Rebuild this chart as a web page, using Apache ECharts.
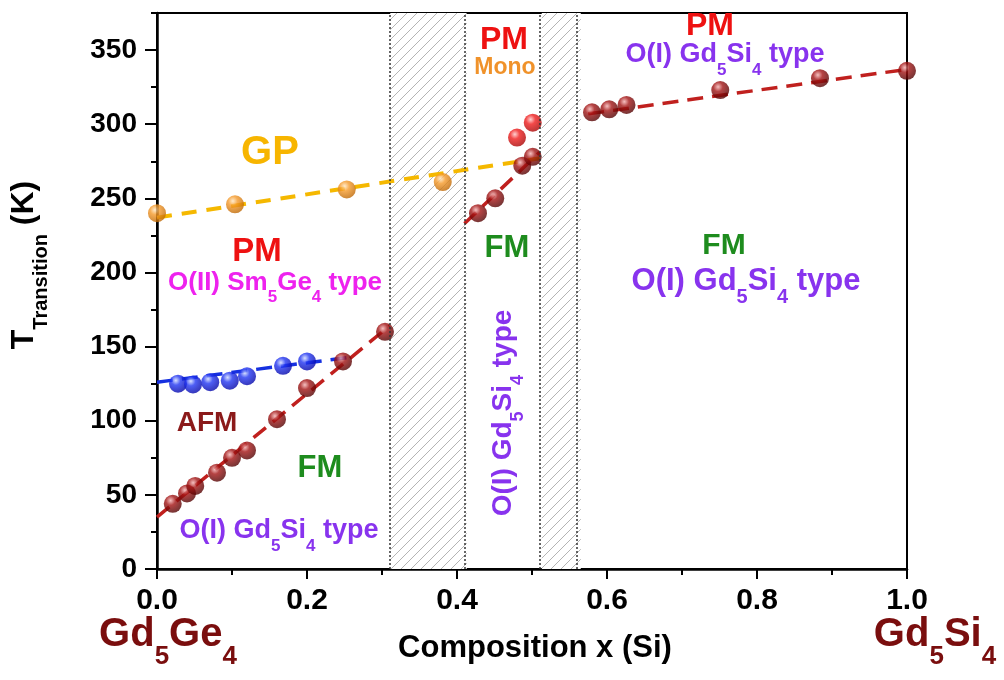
<!DOCTYPE html>
<html>
<head>
<meta charset="utf-8">
<script src="https://cdn.jsdelivr.net/npm/echarts@6/dist/echarts.min.js"></script>
<style>
  html, body { margin: 0; padding: 0; background: #fff; }
  #main { width: 1004px; height: 680px; }
</style>
</head>
<body>
<div id="main"></div>
<script>
// data: [x (Si), T (K)]
const gpLine = [[0, 237], [0.51, 277]];
const gpPts = [[0, 240], [0.104, 246], [0.253, 256], [0.381, 261]];
const afmLine = [[0, 126], [0.26, 143]];
const afmPts = [[0.028, 125], [0.048, 124.5], [0.071, 126], [0.097, 127], [0.12, 130], [0.168, 137], [0.2, 140]];
const fmLowLine = [[0, 35], [0.31, 164]];
const fmLowPts = [[0.021, 44], [0.04, 51], [0.051, 56], [0.08, 65], [0.1, 75], [0.12, 80], [0.16, 101], [0.2, 122], [0.248, 140], [0.304, 160]];
const fmMidLine = [[0.41, 233], [0.51, 281]];
const fmMidPts = [[0.428, 240], [0.451, 250], [0.487, 272], [0.501, 278]];
const pmMonoPts = [[0.48, 291], [0.501, 301]];
const fmHighLine = [[0.575, 307], [1.0, 337]];
const fmHighPts = [[0.58, 308], [0.603, 310], [0.626, 313], [0.751, 323], [0.884, 331], [1.0, 336]];
// two-phase (hatched) regions and their boundaries
const hatchRanges = [[0.311, 0.413], [0.513, 0.565]];
const boundaries = [0.311, 0.413, 0.513, 0.565];
// tick values
const yMajor = [0, 50, 100, 150, 200, 250, 300, 350];
const yMinor = [25, 75, 125, 175, 225, 275, 325, 375];

const FONT = '"Liberation Sans", Arial, sans-serif';

// hatch tile
const tile = document.createElement('canvas');
tile.width = 10; tile.height = 10;
(function () {
  const c = tile.getContext('2d');
  c.fillStyle = '#fff';
  c.fillRect(0, 0, 10, 10);
  c.strokeStyle = '#b4b4b4';
  c.lineWidth = 1;
  c.beginPath();
  c.moveTo(0, 10); c.lineTo(10, 0);
  c.stroke();
})();

function ball(light, mid, dark) {
  return {
    type: 'radial', x: 0.38, y: 0.32, r: 0.75,
    colorStops: [
      { offset: 0, color: light },
      { offset: 0.35, color: mid },
      { offset: 1, color: dark }
    ]
  };
}
const darkRed = ball('#f3b0b0', '#a31414', '#4a0000');
const brightRed = ball('#ffc4c4', '#f01c1c', '#a00000');
const orange = ball('#ffe6c0', '#f59a2a', '#b86200');
const blue = ball('#cdd8ff', '#2236f2', '#0000a0');

function lineSeries(data, color, width, dash) {
  return {
    type: 'line', data: data, symbol: 'none', z: 2, silent: true,
    lineStyle: { color: color, width: width, type: dash }
  };
}
function ptSeries(data, color) {
  return {
    type: 'scatter', data: data, symbolSize: 18, z: 3, clip: false,
    itemStyle: { color: color }
  };
}

// rich text with subscripts: main centred at lineTop + F/2, sub pushed to the line bottom
function rich(F, color) {
  const S = Math.round(F * 0.64);
  return {
    m: { fontSize: F, fontWeight: 'bold', fontFamily: FONT, fill: color, color: color, lineHeight: F, verticalAlign: 'top' },
    s: { fontSize: S, fontWeight: 'bold', fontFamily: FONT, fill: color, color: color, lineHeight: Math.round(0.85 * F + 0.8 * S), verticalAlign: 'bottom' }
  };
}
function sub(str) {
  // "Gd_5Si_4" -> rich string
  return str.split(/(_\d)/).filter(Boolean).map(function (p) {
    return p[0] === '_' ? '{s|' + p.slice(1) + '}' : '{m|' + p + '}';
  }).join('');
}
function label(text, cx, cy, F, color, rot) {
  return {
    type: 'text', x: cx, y: cy - F / 2, rotation: rot || 0, z: 10, silent: true,
    style: {
      text: sub(text), rich: rich(F, color),
      textAlign: 'center', align: 'center', textVerticalAlign: 'top', verticalAlign: 'top'
    }
  };
}

const chart = echarts.init(document.getElementById('main'));

chart.setOption({
  animation: false,
  backgroundColor: '#fff',
  grid: { left: 157, right: 97, top: 13, bottom: 111, show: true, borderColor: '#000', borderWidth: 2, backgroundColor: 'transparent' },
  xAxis: {
    type: 'value', min: 0, max: 1, interval: 0.2,
    splitLine: { show: false },
    axisLine: { lineStyle: { color: '#000', width: 2.5 } },
    axisTick: { length: 10, lineStyle: { color: '#000', width: 2 } },
    minorTick: { show: true, splitNumber: 2, length: 6, lineStyle: { color: '#000', width: 2 } },
    axisLabel: {
      margin: 17, color: '#000', fontSize: 30, fontWeight: 'bold', fontFamily: FONT,
      formatter: function (v) { return v.toFixed(1); }
    }
  },
  yAxis: [{
    type: 'value', min: 0, max: 375,
    splitLine: { show: false },
    axisLine: { show: true, lineStyle: { color: '#000', width: 2.5 } },
    axisTick: { show: true, length: 12, customValues: yMajor, lineStyle: { color: '#000', width: 2 } },
    axisLabel: { margin: 20, customValues: yMajor, color: '#000', fontSize: 28, fontWeight: 'bold', fontFamily: FONT }
  }, {
    type: 'value', min: 0, max: 375, position: 'left',
    splitLine: { show: false },
    axisLine: { show: false },
    axisTick: { show: true, length: 6, customValues: yMinor, lineStyle: { color: '#000', width: 2 } },
    axisLabel: { show: false }
  }],
  series: [
    {
      type: 'line', data: [], silent: true, z: 1,
      markArea: {
        silent: true,
        itemStyle: { color: { image: tile, repeat: 'repeat' }, opacity: 1 },
        data: hatchRanges.map(function (r) { return [{ xAxis: r[0] }, { xAxis: r[1] }]; })
      },
      markLine: {
        silent: true, symbol: 'none', label: { show: false },
        lineStyle: { color: '#333', width: 1.5, type: [2, 2] },
        data: boundaries.map(function (b) { return { xAxis: b }; })
      }
    },
    lineSeries(gpLine, '#f5b800', 4, [15, 10]),
    lineSeries(afmLine, '#1530e0', 3.5, [16, 9]),
    lineSeries(fmLowLine, '#c0201e', 3.5, [16, 9]),
    lineSeries(fmMidLine, '#c0201e', 3.5, [16, 9]),
    lineSeries(fmHighLine, '#c0201e', 3.5, [16, 9]),
    ptSeries(gpPts, orange),
    ptSeries(afmPts, blue),
    ptSeries(fmLowPts, darkRed),
    ptSeries(fmMidPts, darkRed),
    ptSeries(pmMonoPts, brightRed),
    ptSeries(fmHighPts, darkRed)
  ],
  graphic: [
    label('GP', 270, 153, 40, '#f7b500'),
    label('PM', 257, 252, 33, '#ee1111'),
    label('O(II) Sm_5Ge_4 type', 275, 283, 26, '#ee22ee'),
    label('AFM', 207, 423, 28, '#8b1a1a'),
    label('FM', 320, 468, 31, '#1e8c1e'),
    label('O(I) Gd_5Si_4 type', 279, 531, 27, '#8833ee'),
    label('PM', 504, 40, 32, '#ee1111'),
    label('Mono', 505, 68, 23, '#f0922a'),
    label('FM', 507, 248, 31, '#1e8c1e'),
    {
      type: 'text', x: 489, y: 413, rotation: Math.PI / 2, z: 10, silent: true,
      style: { text: sub('O(I) Gd_5Si_4 type'), rich: rich(28, '#8833ee'), textAlign: 'center', align: 'center', textVerticalAlign: 'top', verticalAlign: 'top' }
    },
    label('PM', 710, 26, 32, '#ee1111'),
    label('O(I) Gd_5Si_4 type', 725, 55, 27, '#8833ee'),
    label('FM', 724, 246, 30, '#1e8c1e'),
    label('O(I) Gd_5Si_4 type', 746, 281, 31, '#8833ee'),
    label('Gd_5Ge_4', 168, 635, 40, '#7a0e0e'),
    label('Gd_5Si_4', 935, 635, 40, '#7a0e0e'),
    label('Composition x (Si)', 535, 648, 31, '#000'),
    {
      type: 'text', x: 8, y: 265, rotation: Math.PI / 2, z: 10, silent: true,
      style: { text: '{m|T}{s|Transition}{m| (K)}', rich: rich(32, '#000'), textAlign: 'center', align: 'center', textVerticalAlign: 'top', verticalAlign: 'top' }
    }
  ]
});
</script>
</body>
</html>
